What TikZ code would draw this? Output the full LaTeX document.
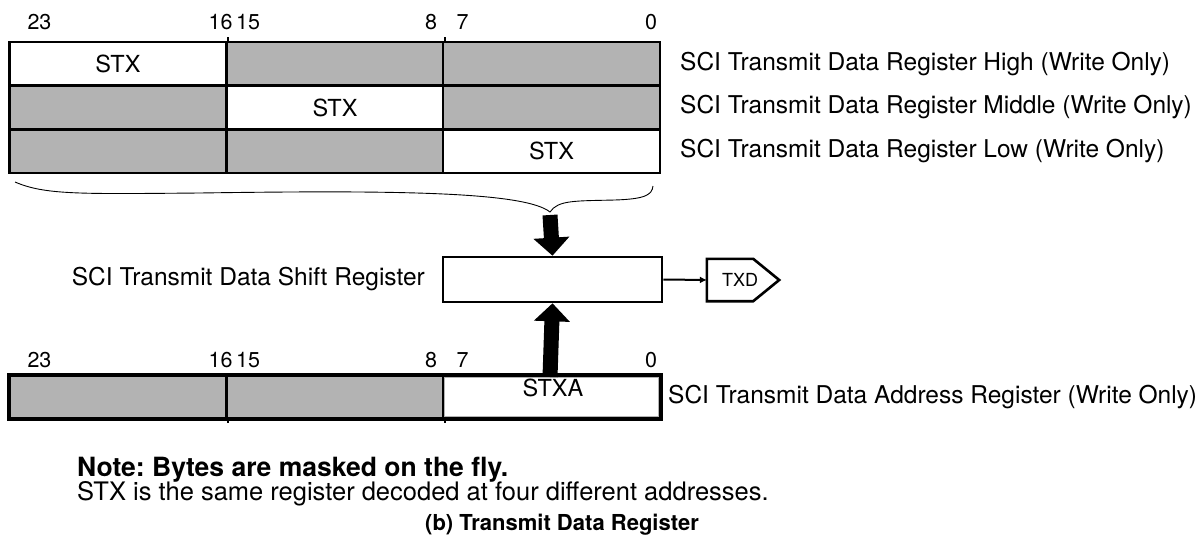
\documentclass[tikz,border=0pt]{standalone}
\usepackage{fontspec}
\setmainfont{TeX Gyre Heros}
\usetikzlibrary{arrows.meta}
\definecolor{cellgray}{RGB}{179,179,179}
\frenchspacing
\tikzset{
  cell/.style={draw=black,line width=2.6pt,minimum width=217pt,minimum height=43.7pt,inner sep=0pt,font=\fontsize{23.5}{26}\selectfont},
  graycell/.style={cell,fill=cellgray},
  whitecell/.style={cell,fill=white},
  lbl/.style={inner sep=0pt,font=\fontsize{24.5}{27}\selectfont},
  bit/.style={inner sep=0pt,font=\fontsize{21.5}{24}\selectfont},
  note/.style={inner sep=0pt,anchor=west,font=\fontsize{25.5}{28}\selectfont},
  bigarrow/.style={line width=15pt,-{Triangle[width=35pt,length=18pt]}},
  bracepath/.style={line width=0.9pt},
  padbody/.style={inner sep=0pt,minimum width=46pt,minimum height=42pt},
}
\begin{document}
\begin{tikzpicture}[x=1pt,y=-1pt]
\useasboundingbox (0,0) rectangle (1195,538);
% bit numbers top
\node[bit] (t23) at (39.5,22.5) {23};
\node[bit] (t16) at (220.5,22.5) {16};
\node[bit] (t15) at (248,22.5) {15};
\node[bit] (t8) at (431,22.5) {8};
\node[bit] (t7) at (462.5,22.5) {7};
\node[bit] (t0) at (651,22.5) {0};
% top registers
\node[whitecell] (h1) at (118,63.8) {STX};
\node[graycell] (h2) at (335,63.8) {};
\node[graycell] (h3) at (551.5,63.8) {};
\node[graycell] (m1) at (118,107.5) {};
\node[whitecell] (m2) at (335,107.5) {STX};
\node[graycell] (m3) at (551.5,107.5) {};
\node[graycell] (l1) at (118,151.2) {};
\node[graycell] (l2) at (335,151.2) {};
\node[whitecell] (l3) at (551.5,151.2) {STX};
% divider ticks above
\draw[line width=2pt] (h1.north east) -- ++(0,-4);
\draw[line width=2pt] (h2.north east) -- ++(0,-4);
% register labels
\node[lbl,anchor=west] (lh) at (680,64) {SCI Transmit Data Register High (Write Only)};
\node[lbl,anchor=west] (lm) at (680,107.5) {SCI Transmit Data Register Middle (Write Only)};
\node[lbl,anchor=west] (ll) at (680,151) {SCI Transmit Data Register Low (Write Only)};
% brace
\coordinate (btip) at (550,212);
\draw[bracepath] (15,182) .. controls (45,195) and (80,194) .. (200,193)
  .. controls (400,190) and (525,192) .. (btip)
  .. controls (558,200) and (575,201) .. (615,200)
  .. controls (645,199) and (652,195) .. (653,186);
% shift register
\node[draw,line width=2.6pt,minimum width=219pt,minimum height=45pt,inner sep=0pt] (sr) at (552.5,279.5) {};
\node[lbl,anchor=east] (srl) at (425,279.5) {SCI Transmit Data Shift Register};
\coordinate (dstart) at (550,215);
\draw[bigarrow] (dstart) -- (sr.north);
% TXD pad
\node[padbody] (txd) at (730,280) {};
\draw[line width=2.6pt,line join=miter] (txd.north west) -- (txd.north east) -- ([xshift=26pt]txd.east) -- (txd.south east) -- (txd.south west) -- cycle;
\node[inner sep=0pt,font=\fontsize{18}{20}\selectfont] (txdt) at (740,280) {TXD};
\draw[line width=2pt,-{Latex[length=7pt,width=7pt]}] (sr.east) -- (txd.west);
% bottom bit numbers
\node[bit] (b23) at (39.5,360) {23};
\node[bit] (b16) at (220.5,360) {16};
\node[bit] (b15) at (248,360) {15};
\node[bit] (b8) at (431,360) {8};
\node[bit] (b7) at (462.5,360) {7};
\node[bit] (b0) at (651,360) {0};
% bottom register
\node[graycell,minimum height=42pt] (a1) at (118,397) {};
\node[graycell,minimum height=42pt] (a2) at (335,397) {};
\node[whitecell,minimum height=42pt] (a3) at (551.5,397) {};
\draw[cellgray,line width=1.5pt] ([shift={(3,3)}]a3.north west) rectangle ([shift={(-3,-3)}]a3.south east);
\draw[line width=2.6pt] (a1.north west) rectangle (a3.south east);
\draw[line width=2pt] (a1.south east) -- ++(0,4);
\draw[line width=2pt] (a2.south east) -- ++(0,4);
\coordinate (ustart) at (550,377);
\draw[bigarrow] (ustart) -- (sr.south);
\node[inner sep=0pt,font=\fontsize{23.5}{26}\selectfont] (stxa) at (553,388) {STXA};
\node[lbl,anchor=west] (la) at (668,397) {SCI Transmit Data Address Register (Write Only)};
% notes
\node[note,font=\fontsize{26.5}{29}\selectfont\bfseries] (n1) at (77,470) {Note: Bytes are masked on the fly.};
\node[note] (n2) at (77,494) {STX is the same register decoded at four different addresses.};
\node[inner sep=0pt,font=\fontsize{22}{24}\selectfont\bfseries] (cap) at (562,525) {(b) Transmit Data Register};
\end{tikzpicture}
\end{document}
